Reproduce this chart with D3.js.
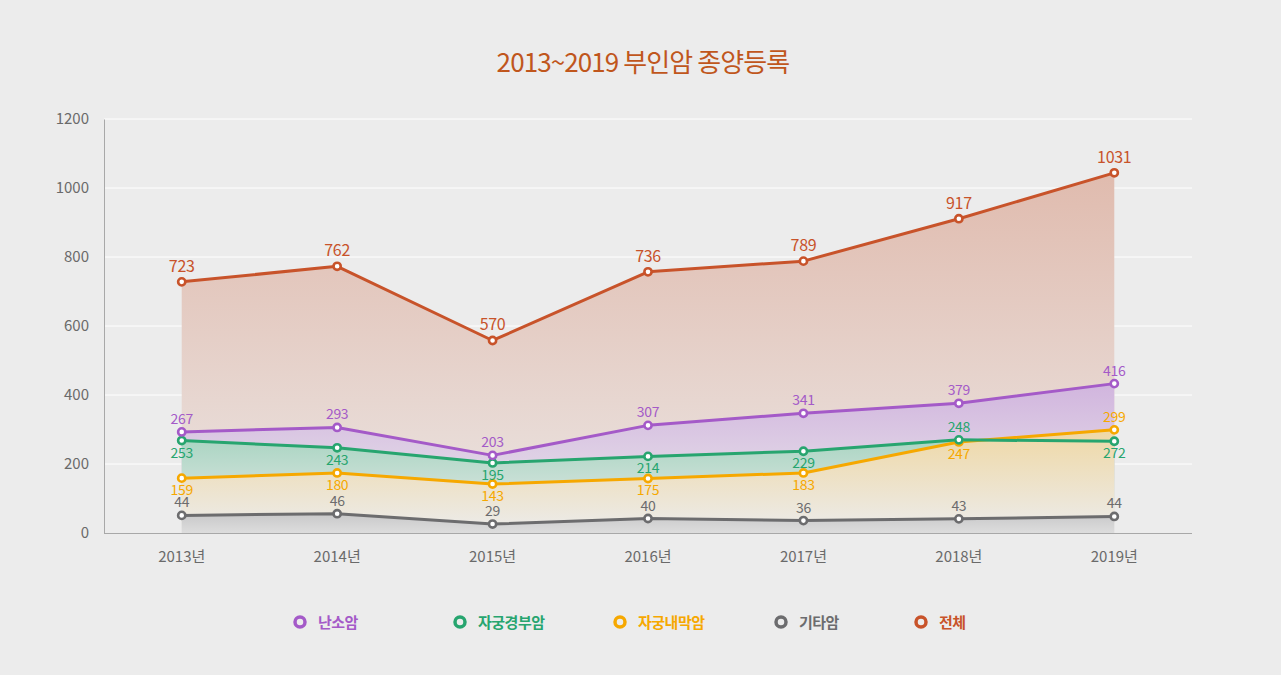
<!DOCTYPE html>
<html><head><meta charset="utf-8">
<script src="https://cdn.jsdelivr.net/npm/d3@7/dist/d3.min.js"></script>
<style>
body{margin:0;background:#ececec;}
svg{display:block;font-family:"Noto Sans CJK KR","Noto Sans",sans-serif;}
</style></head>
<body><svg id="c" width="1281" height="675"></svg>
<script>
const years = ["2013년","2014년","2015년","2016년","2017년","2018년","2019년"];
const yTicks = [0,200,400,600,800,1000,1200];
const seriesNames = ["난소암","자궁경부암","자궁내막암","기타암","전체"];
const colors = ["#a45ac8","#27a56f","#f6a800","#6c6c6e","#c8532a"];
// plotted values (read from point positions)
const ovary = [293,306,225,312,347,376,433];
const cervix = [268,247,203,222,237,270,266];
const endometrium = [159,174,142,158,174,264,299];
const other = [51,56,26,42,36,41,48];
const total = [728,773,558,757,788,911,1044];
// printed data labels
const ovaryLbl = [267,293,203,307,341,379,416];
const cervixLbl = [253,243,195,214,229,248,272];
const endoLbl = [159,180,143,175,183,247,299];
const otherLbl = [44,46,29,40,36,43,44];
const totalLbl = [723,762,570,736,789,917,1031];
// label placement: 1 above, -1 below
const ovaryPos = [1,1,1,1,1,1,1];
const cervixPos = [-1,-1,-1,-1,-1,1,-1];
const endoPos = [-1,-1,-1,-1,-1,-1,1];
const otherPos = [1,1,1,1,1,1,1];
const totalPos = [1,1,1,1,1,1,1];

const BG = "#ececec";
const series = [
  {name:seriesNames[4], color:colors[4], v:total, l:totalLbl, p:totalPos, big:true, top:0.32, bot:0.04},
  {name:seriesNames[0], color:colors[0], v:ovary, l:ovaryLbl, p:ovaryPos, top:0.38, bot:0.0},
  {name:seriesNames[1], color:colors[1], v:cervix, l:cervixLbl, p:cervixPos, top:0.33, bot:0.0},
  {name:seriesNames[2], color:colors[2], v:endometrium, l:endoLbl, p:endoPos, top:0.3, bot:0.0},
  {name:seriesNames[3], color:colors[3], v:other, l:otherLbl, p:otherPos, top:0.28, bot:0.12}
];

const svg = d3.select("#c");
const L=104, R=1192, T=119, B=533;
const x = d3.scaleBand().domain(years).range([L,R]);
const cx = d => x(d)+x.bandwidth()/2;
const y = d3.scaleLinear().domain([0,1200]).range([B,T]);

svg.append("text").attr("x",643).attr("y",72).attr("text-anchor","middle")
  .attr("fill","#c0561c").attr("font-size",26).attr("letter-spacing",-0.9).text("2013~2019 부인암 종양등록");

// grid
svg.append("g").selectAll("line").data(yTicks.filter(d=>d>0)).join("line")
  .attr("x1",L).attr("x2",R).attr("y1",d=>y(d)).attr("y2",d=>y(d))
  .attr("stroke","#ffffff").attr("stroke-width",1);

// y axis
const yAxis = svg.append("g").attr("transform",`translate(${L},0)`)
  .call(d3.axisLeft(y).tickValues(yTicks).tickFormat(d3.format("d")).tickSize(0).tickPadding(15));
yAxis.select(".domain").attr("stroke","#a8a8a8");
yAxis.selectAll("text").attr("fill","#6a6a6a").attr("font-size",15).attr("font-family","'Noto Sans CJK KR',sans-serif");

const xAxis = svg.append("g").attr("transform",`translate(0,${B})`)
  .call(d3.axisBottom(x).tickSize(0).tickPadding(18));
xAxis.select(".domain").attr("stroke","#a8a8a8").attr("d",`M${L},0.5H${R}`);
xAxis.selectAll("text").attr("fill","#6a6a6a").attr("font-size",15).attr("font-family","'Noto Sans CJK KR',sans-serif");

const defs = svg.append("defs");
series.forEach((s,i)=>{
  const mix = d3.interpolateRgb(BG, s.color);
  const gr = defs.append("linearGradient").attr("id","g"+i).attr("x1",0).attr("y1",0).attr("x2",0).attr("y2",1);
  gr.append("stop").attr("offset","0%").attr("stop-color",mix(s.top));
  gr.append("stop").attr("offset","100%").attr("stop-color",mix(s.bot));
});

const area = d3.area().x((d,i)=>cx(years[i])).y0(y(0)).y1(d=>y(d));
const line = d3.line().x((d,i)=>cx(years[i])).y(d=>y(d));

series.forEach((s,i)=>{
  svg.append("path").datum(s.v).attr("d",area).attr("fill",`url(#g${i})`);
});
[4,3,2,1,0].forEach(i=>{
  const s = series[i];
  svg.append("path").datum(s.v).attr("d",line).attr("fill","none")
    .attr("stroke",s.color).attr("stroke-width",3).attr("stroke-linejoin","round");
});
[4,3,2,1,0].forEach(i=>{
  const s = series[i];
  svg.append("g").selectAll("circle").data(s.v).join("circle")
    .attr("cx",(d,j)=>cx(years[j])).attr("cy",d=>y(d)).attr("r",3.6)
    .attr("fill","#fff").attr("stroke",s.color).attr("stroke-width",2.6);
});
series.forEach((s,i)=>{
  svg.append("g").selectAll("text").data(s.v).join("text")
    .attr("x",(d,j)=>cx(years[j]))
    .attr("y",(d,j)=> s.p[j]>0 ? y(d)-(s.big?10:8) : y(d)+17)
    .attr("text-anchor","middle").attr("fill",s.color)
    .attr("font-size",s.big?16:14).attr("letter-spacing",-0.3)
    .text((d,j)=>s.l[j]);
});

// legend
const legX = [300,460,620,781,921];
const legOrder = [1,2,3,4,0];
legOrder.forEach((si,k)=>{
  const s = series[si];
  svg.append("circle").attr("cx",legX[k]).attr("cy",622).attr("r",5).attr("fill","none")
    .attr("stroke",s.color).attr("stroke-width",3.5);
  svg.append("text").attr("x",legX[k]+18).attr("y",628).attr("fill",s.color)
    .attr("font-size",15).attr("font-weight","bold").attr("letter-spacing",-0.5).text(s.name);
});
</script></body></html>
